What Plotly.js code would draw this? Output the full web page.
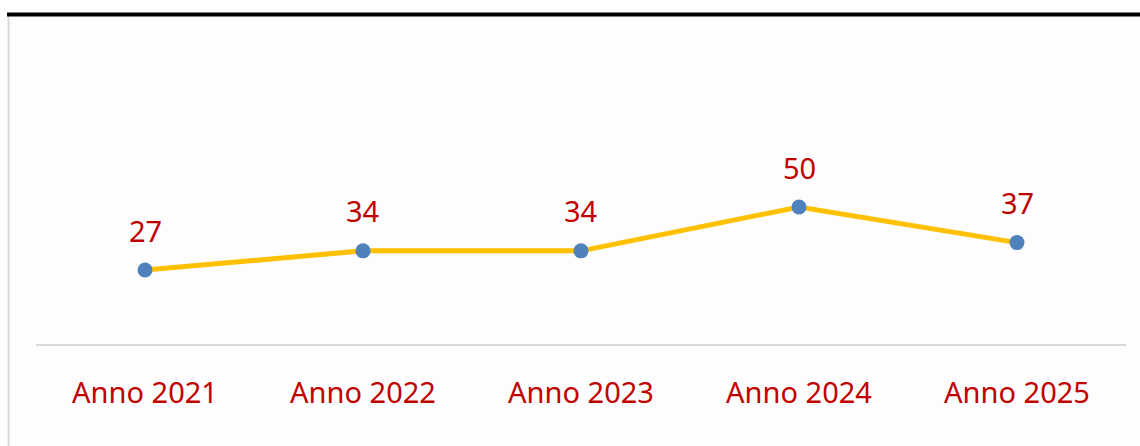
<!DOCTYPE html>
<html><head><meta charset="utf-8">
<script src="https://cdn.plot.ly/plotly-3.0.1.min.js"></script>
<style>html,body{margin:0;padding:0;background:#fff;}#chart{width:1140px;height:446px;}</style>
</head><body><div id="chart"></div>
<script>
var categories = ["Anno 2021","Anno 2022","Anno 2023","Anno 2024","Anno 2025"];
var values = [27, 34, 34, 50, 37];
var labels = ["27","34","34","50","37"];

var FONT = "'Noto Sans', sans-serif";
var RED = "#C00000";

var trace = {
  x: categories, y: values, type: "scatter", mode: "lines+markers",
  line: {color: "#FFC000", width: 5},
  marker: {color: "#4F81BD", size: 15},
  hoverinfo: "skip", cliponaxis: false
};

var annotations = categories.map(function(c, i){
  return {x: c, y: values[i], text: labels[i], showarrow: false,
    xref: "x", yref: "y", yshift: 40, font: {family: FONT, size: 29, color: RED}};
});

var layout = {
  width: 1140, height: 446,
  margin: {l: 36, r: 14, t: 70, b: 102, pad: 0},
  paper_bgcolor: "#ffffff", plot_bgcolor: "rgba(0,0,0,0)",
  showlegend: false,
  xaxis: {type: "category", range: [-0.5, 4.5], showgrid: false, zeroline: false,
    showline: true, linecolor: "#d9d9d9", linewidth: 2, ticks: "",
    tickfont: {family: FONT, size: 29, color: RED}, ticklabelstandoff: 22, fixedrange: true},
  yaxis: {range: [0, 100], visible: false, fixedrange: true},
  annotations: annotations,
  shapes: [
    {type: "rect", xref: "paper", yref: "paper", x0: -0.0248, x1: 1.013, y0: -0.38, y1: 1.197,
      fillcolor: "#fdfdfd", line: {width: 0}, layer: "below"},
    {type: "line", xref: "paper", yref: "paper", x0: -0.0252, x1: -0.0252, y0: -0.38, y1: 1.197,
      line: {color: "#d9d9d9", width: 2}},
    {type: "line", xref: "paper", yref: "paper", x0: -0.0266, x1: 1.013, y0: 1.2026, y1: 1.2026,
      line: {color: "#000000", width: 4}}
  ]
};

Plotly.newPlot("chart", [trace], layout, {displayModeBar: false, staticPlot: true});
</script></body></html>
